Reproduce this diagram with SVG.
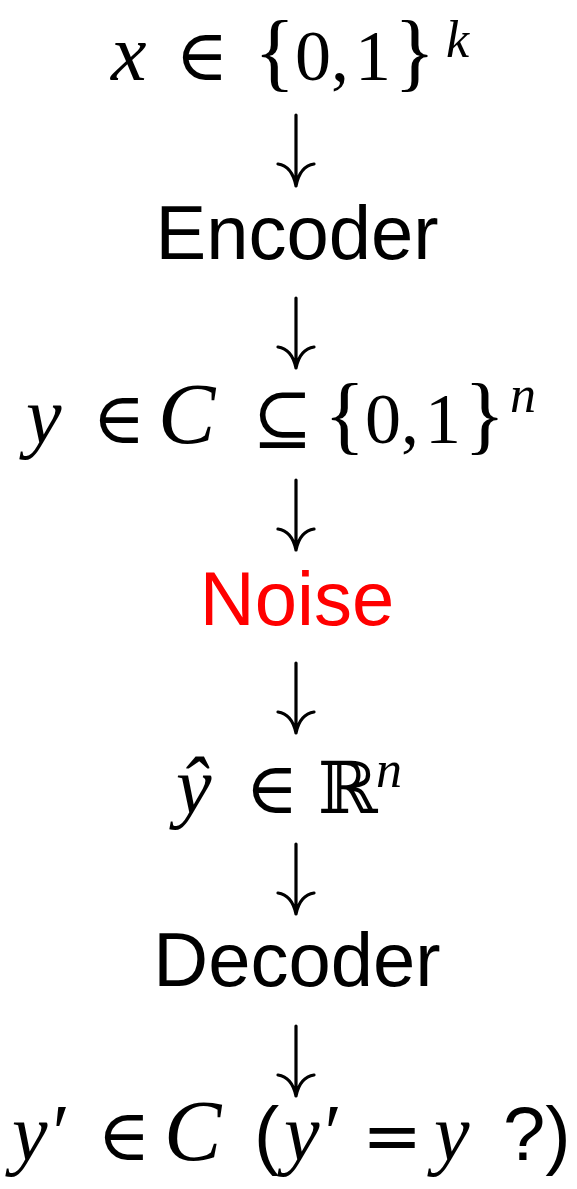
<svg xmlns="http://www.w3.org/2000/svg" width="577" height="1189" viewBox="0 0 577 1189">
<style>
.m{font-family:"Liberation Serif","DejaVu Serif",serif;font-size:72px;fill:#000}
.i{font-style:italic;font-size:80px}
.c{font-style:italic;font-size:86px}
.b{font-size:86px}
.op{font-family:"DejaVu Sans",sans-serif;font-size:72px}
.s{font-family:"Liberation Sans",Arial,sans-serif;font-size:76px;fill:#000}
.sup{font-family:"Liberation Serif","DejaVu Serif",serif;font-style:italic;font-size:52px}
.arr{fill:none;stroke:#000;stroke-width:3.2;stroke-linecap:round}
</style>
<rect width="577" height="1189" fill="#fff"/>
<g id="input">
<text class="m" y="80"><tspan class="i" x="111">x</tspan><tspan x="175">∈</tspan><tspan class="b" x="254">{</tspan><tspan x="295 331 355">0,1</tspan><tspan class="b" x="394">}</tspan><tspan class="sup" x="446" y="57">k</tspan></text>
</g>
<g id="encoder">
<text class="s" x="297" y="259" text-anchor="middle">Encoder</text>
</g>
<g id="codeword">
<text class="m" y="443"><tspan class="i" x="26">y</tspan><tspan x="92">∈</tspan><tspan class="c" x="158">C</tspan><tspan x="252">⊆</tspan><tspan class="b" x="324">{</tspan><tspan x="365 401 425">0,1</tspan><tspan class="b" x="464">}</tspan><tspan class="sup" x="510" y="412">n</tspan></text>
</g>
<g id="noise">
<text class="s" x="297" y="625" text-anchor="middle" style="fill:#ff0000">Noise</text>
</g>
<g id="received">
<text class="m" y="813"><tspan class="i" x="176">ŷ</tspan><tspan x="245">∈</tspan><tspan x="318">ℝ</tspan><tspan class="sup" x="376" y="787">n</tspan></text>
</g>
<g id="decoder">
<text class="s" x="297" y="986" text-anchor="middle">Decoder</text>
</g>
<g id="output">
<text class="m" y="1160"><tspan class="i" x="12">y′</tspan><tspan x="97">∈</tspan><tspan class="c" x="164">C</tspan><tspan class="s" x="254">(</tspan><tspan class="i" x="284">y′</tspan><tspan class="op" x="362">=</tspan><tspan class="i" x="434">y</tspan><tspan class="s" x="503">?)</tspan></text>
</g>
<g id="connectors">
<path class="arr" d="M296 115V186M278 164Q292 166 296 186M314 164Q300 166 296 186"/>
<path class="arr" d="M296 298V368M278 347Q292 349 296 368M314 347Q300 349 296 368"/>
<path class="arr" d="M296 480V550M278 529Q292 531 296 550M314 529Q300 531 296 550"/>
<path class="arr" d="M296 663V733M278 712Q292 714 296 733M314 712Q300 714 296 733"/>
<path class="arr" d="M296 844V914M278 893Q292 895 296 914M314 893Q300 895 296 914"/>
<path class="arr" d="M296 1026V1096M278 1075Q292 1077 296 1096M314 1075Q300 1077 296 1096"/>
</g>
</svg>
